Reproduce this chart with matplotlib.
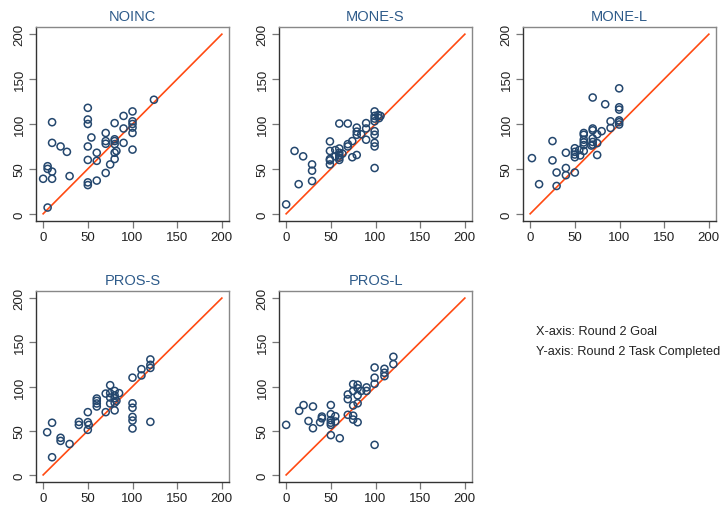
import matplotlib
matplotlib.use("Agg")
import matplotlib.pyplot as plt

plt.rcParams['font.family'] = ['Liberation Sans', 'DejaVu Sans']

titles = ["NOINC", "MONE-S", "MONE-L", "PROS-S", "PROS-L"]

noinc_x = [0, 5, 5, 10, 10, 10, 10, 5, 19.5, 26.6, 29.6, 50, 50, 50, 50, 50, 50, 50, 54, 60, 60, 60,
           70, 70, 70, 70, 75, 80, 80, 80, 80, 80, 80, 82, 90, 90, 90, 100, 100, 100, 100, 100, 100, 124]
noinc_y = [39, 50, 53, 102, 79, 47, 39, 7, 75, 69, 42, 118, 105, 100, 75, 60, 35, 32, 85, 68, 59, 37,
           90, 81, 78, 45.5, 55, 101, 83, 81, 77.6, 68, 61, 70, 109, 95, 79, 114, 103, 100, 96, 90, 71.5, 127]

mones_x = [0, 9.4, 14, 19, 29, 29, 29, 49, 49, 49, 49, 49, 55, 55, 59.5, 59.5, 59.5, 59.5, 59.5, 59.5,
           63, 69, 69, 69, 74, 74, 79, 79, 79, 79, 84, 89.5, 89.5, 89.5, 99, 99, 99, 99, 99, 99, 99, 99,
           99, 103, 105.6, 104]
mones_y = [10.5, 70, 33, 64, 55, 48, 36.5, 80.6, 70, 61, 59.5, 55, 71, 64, 100.5, 72.7, 68, 65, 62.5, 60,
           67, 100.5, 77.6, 75, 81, 63, 96, 91.5, 88, 65.5, 88.5, 101, 95, 82.5, 114, 109, 106, 103, 92, 88,
           79, 75, 51, 110, 109, 106.5]

monel_x = [2, 10, 25, 25, 29.6, 29.6, 40, 40, 40, 50, 50, 50, 50, 50, 55, 56, 60, 60, 60, 60, 60, 60,
           70, 70, 70, 70, 70, 70, 68.5, 75, 75, 75, 80, 84, 90, 90, 99.6, 99.6, 99.6, 99.6, 99.6, 99.6]
monel_y = [62, 33, 81, 59.5, 46, 31, 68, 51, 43, 73, 69, 66, 63, 46, 71, 65, 90, 88, 82.5, 79.5, 76.5, 70,
           129.5, 95, 93, 84, 80, 77, 76, 88.5, 78.7, 65.5, 92, 122, 103, 95.6, 139.7, 118.6, 116, 104, 102, 99.4]

pross_x = [4.5, 10, 10, 19.5, 19.5, 29.6, 40, 40, 50, 50, 50, 51, 60, 60, 60, 60, 70, 70, 75, 75, 75, 75,
           80, 80, 80, 80, 80, 82, 85, 100, 100, 100, 100, 100, 100, 110, 110, 120, 120, 120, 120]
pross_y = [48.3, 59, 20, 42, 38.5, 35, 60, 56.6, 71, 59.6, 51, 56.6, 86.4, 83.8, 80.8, 77.4, 92, 71, 101.5,
           92.5, 87.5, 80.8, 95, 90, 86.8, 81.5, 73, 83.8, 92.5, 110, 81, 76, 65.6, 61.5, 52.5, 119.6, 112.5,
           130.6, 124.5, 121, 60]

prosl_x = [0, 14.6, 19.5, 25, 30, 30, 38, 40, 40, 50, 50, 50, 50, 50, 50, 55, 55, 60, 69, 69, 69, 75, 75,
           75, 75, 75, 80, 80, 80, 80, 80, 84, 90, 90, 99, 99, 99, 99, 110, 110, 110, 120, 120]
prosl_y = [56.6, 72.5, 79, 61, 77.4, 52.8, 59.6, 64, 66, 79, 68.7, 62, 59, 56.6, 45, 66.4, 60.4, 41.5, 91,
           85.7, 68, 102.6, 95, 78.5, 67, 62.6, 102, 98, 90, 81, 59.6, 95, 99, 95, 121.5, 110, 103, 34, 120,
           115.5, 111.7, 133.6, 125.3]

xs = [noinc_x, mones_x, monel_x, pross_x, prosl_x]
ys = [noinc_y, mones_y, monel_y, pross_y, prosl_y]

ref_line = [0, 200]
ticks = [0, 50, 100, 150, 200]
note_lines = ["X-axis: Round 2 Goal", "Y-axis: Round 2 Task Completed"]

fig = plt.figure(figsize=(7.24, 5.06), dpi=100)
W, H = 724.0, 506.0
lefts = [36, 279, 523]
rows = [(28, 222), (292, 483)]
pw = 193

point_color = "#24476E"
line_color = "#FF4A12"
title_color = "#2E5B8A"

for i in range(5):
    r, c = divmod(i, 3)
    top, bot = rows[r]
    ax = fig.add_axes([lefts[c] / W, (H - bot) / H, pw / W, (bot - top) / H])
    ax.plot(ref_line, ref_line, color=line_color, lw=1.2, zorder=2)
    ax.scatter(xs[i], ys[i], s=26, facecolors="none", edgecolors=point_color, linewidths=1.1, zorder=3)
    ax.set_xlim(-8, 208)
    ax.set_ylim(-8, 208)
    ax.set_xticks(ticks)
    ax.set_yticks(ticks)
    ax.set_xticklabels([str(t) for t in ticks], fontsize=9.5, color="#222222")
    ax.set_yticklabels([str(t) for t in ticks], fontsize=9.5, color="#222222",
                       rotation=90, va="center")
    ax.tick_params(axis="both", direction="out", length=5, width=0.9, color="#777777")
    ax.tick_params(axis="x", pad=2)
    ax.tick_params(axis="y", pad=2.5)
    for side in ["top", "right"]:
        ax.spines[side].set_color("#888888")
        ax.spines[side].set_linewidth(1.0)
    for side in ["left", "bottom"]:
        ax.spines[side].set_color("#333333")
        ax.spines[side].set_linewidth(1.0)
    ax.set_title(titles[i], fontsize=10.5, color=title_color, pad=5)

fig.text(536 / W, 1 - 332 / H, note_lines[0], fontsize=9.2, color="#222222", va="center", ha="left")
fig.text(536 / W, 1 - 352 / H, note_lines[1], fontsize=9.2, color="#222222", va="center", ha="left")

fig.savefig("out.png", dpi=100)
